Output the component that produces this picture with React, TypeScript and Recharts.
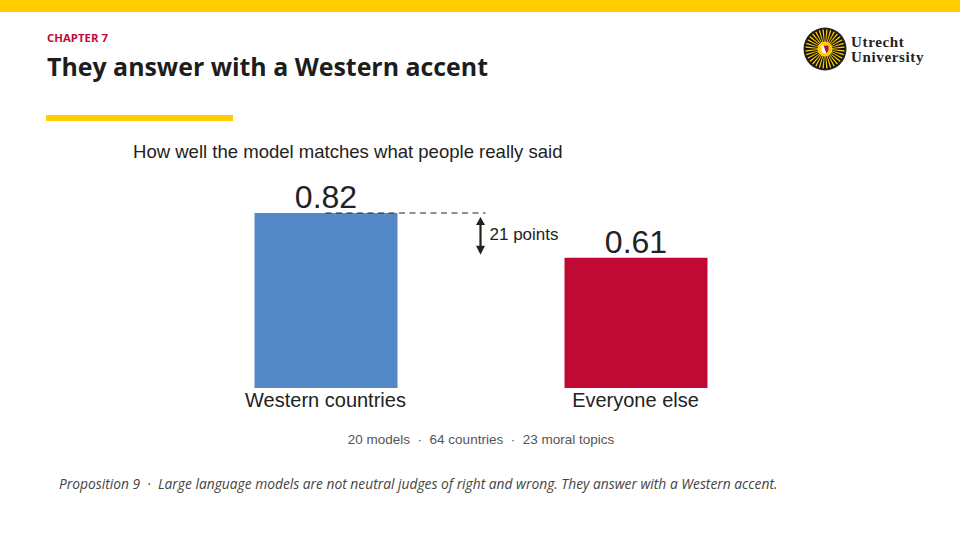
import React from "react"
import { BarChart, Bar, XAxis, YAxis, Cell, LabelList, ReferenceLine } from "recharts"

const categories = ["Western countries", "Everyone else"]
const scores = [0.82, 0.61]
const barColors = ["#5488C7", "#C00A35"]
const gapLabel = "21 points"
const rayAngles = [0, 11.25, 22.5, 33.75, 45, 56.25, 67.5, 78.75, 90, 101.25, 112.5, 123.75, 135, 146.25, 157.5, 168.75, 180, 191.25, 202.5, 213.75, 225, 236.25, 247.5, 258.75, 270, 281.25, 292.5, 303.75, 315, 326.25, 337.5, 348.75]

const data = categories.map((name, i) => ({ name, score: scores[i] }))

const sans = "'Liberation Sans', Arial, sans-serif"
const humanist = "'Open Sans', 'Noto Sans', sans-serif"
const YELLOW = "#FFCD00"

const abs = (left: number, top: number, extra: React.CSSProperties): React.CSSProperties => ({
  position: "absolute", left, top, whiteSpace: "nowrap", lineHeight: 1, ...extra,
})

// dashed guide from the first bar's top plus the double arrow, placed from the segment's scaled ends
function GapMarker(props: any) {
  const { x1, y1, y2 } = props
  if (y1 == null) return null
  const dashEnd = x1 + 160
  const ax = x1 + 155
  return (
    <g>
      <line x1={x1} x2={dashEnd} y1={y1} y2={y1} stroke="#222" strokeWidth={1.2} strokeDasharray="6 4.5" />
      <line x1={ax} x2={ax} y1={y1 + 8} y2={y2 - 8} stroke="#222" strokeWidth={2.2} />
      <path d={`M${ax - 4.5} ${y1 + 12} L${ax} ${y1 + 4} L${ax + 4.5} ${y1 + 12} Z`} fill="#222" />
      <path d={`M${ax - 4.5} ${y2 - 12} L${ax} ${y2 - 3} L${ax + 4.5} ${y2 - 12} Z`} fill="#222" />
      <text x={ax + 9} y={(y1 + y2) / 2} fontFamily={sans} fontSize={17} fill="#222" dominantBaseline="middle">
        {gapLabel}
      </text>
    </g>
  )
}

function Logo() {
  return (
    <svg width={44} height={44} viewBox="-22 -22 44 44" style={{ position: "absolute", left: 803, top: 27 }}>
      <circle r={21.5} fill="#222" />
      <circle r={19.5} fill="#FFCD00" />
      {rayAngles.map((a) => (
        <path key={a} d="M-1.2 -20 L1.2 -20 L0.35 -7 L-0.35 -7 Z" fill="#111" transform={`rotate(${a})`} />
      ))}
      <circle r={7.5} fill="#FFCD00" />
      <path d="M-3.6 -3.6 L3.6 -3.6 L3.6 1 Q3.6 3.6 0 4.6 Q-3.6 3.6 -3.6 1 Z" fill="#fff" />
      <path d="M-1.4 -3.6 L3.6 -3.6 L3.6 1 Q3.6 2.8 1.2 4 Z" fill="#B5122E" />
    </svg>
  )
}

export default function App() {
  return (
    <div style={{ position: "absolute", left: 0, top: 0, width: 960, height: 540, background: "#fff", overflow: "hidden" }}>
      <div style={{ position: "absolute", left: 0, top: 0, width: 960, height: 12, background: YELLOW }} />
      <div style={abs(47, 32, { fontFamily: humanist, fontWeight: 700, fontSize: 11.4, color: "#C00A35" })}>CHAPTER 7</div>
      <div style={abs(47, 54, { fontFamily: humanist, fontWeight: 700, fontSize: 24.9, color: "#1d1d1d" })}>They answer with a Western accent</div>
      <div style={{ position: "absolute", left: 46, top: 115, width: 187, height: 6, background: YELLOW }} />
      <Logo />
      <div style={abs(851, 35, { fontFamily: "'Liberation Serif', serif", fontWeight: 700, fontSize: 15, letterSpacing: 0.65, color: "#222", lineHeight: "15px" })}>
        Utrecht<br />University
      </div>
      <div style={abs(133, 143, { fontFamily: sans, fontSize: 18.55, color: "#222" })}>How well the model matches what people really said</div>

      <div style={{ position: "absolute", left: 0, top: 0 }}>
        <BarChart width={960} height={540} data={data} margin={{ top: 174.6, right: 169.5, bottom: 122, left: 170.5 }} barSize={143}>
          <XAxis
            dataKey="name"
            axisLine={false}
            tickLine={false}
            tickSize={3}
            interval={0}
            tick={{ fontFamily: sans, fontSize: 20, fill: "#222" }}
          />
          <YAxis hide domain={[0, 1]} />
          <Bar dataKey="score" isAnimationActive={false}>
            {data.map((d, i) => (
              <Cell key={d.name} fill={barColors[i]} />
            ))}
            <LabelList dataKey="score" position="top" fontFamily={sans} fontSize={32} fill="#222" />
          </Bar>
          <ReferenceLine
            segment={[{ x: categories[0], y: scores[0] }, { x: categories[1], y: scores[1] }]}
            shape={GapMarker}
          />
        </BarChart>
      </div>

      <div style={{ ...abs(0, 433, { fontFamily: sans, fontSize: 13.5, color: "#555" }), width: 962, textAlign: "center" }}>
        20 models &nbsp;·&nbsp; 64 countries &nbsp;·&nbsp; 23 moral topics
      </div>
      <div style={abs(59, 477, { fontFamily: humanist, fontStyle: "italic", fontSize: 13.8, color: "#444" })}>
        Proposition 9 &nbsp;·&nbsp; Large language models are not neutral judges of right and wrong. They answer with a Western accent.
      </div>
    </div>
  )
}
